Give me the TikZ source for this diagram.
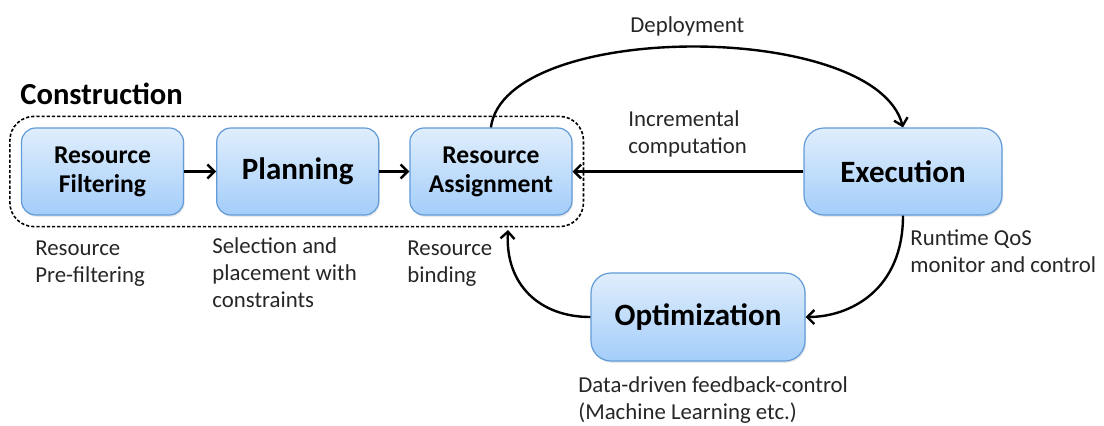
\documentclass[tikz,border=0pt]{standalone}
\usepackage{fontspec}
\setmainfont{Carlito}
\usetikzlibrary{shapes,arrows.meta,positioning,calc,fit,shadows}

\definecolor{boxtop}{RGB}{224,238,252}
\definecolor{boxbot}{RGB}{163,205,250}
\definecolor{boxline}{RGB}{98,155,215}

\tikzset{
  stage/.style={rectangle, rounded corners=7pt, draw=boxline, line width=0.6pt,
    top color=boxtop, bottom color=boxbot, align=center,
    minimum width=81pt, minimum height=43.5pt, inner sep=2pt,
    font=\bfseries\fontsize{12.8}{14.5}\selectfont,
    drop shadow={opacity=0.18, shadow xshift=0.6pt, shadow yshift=-0.9pt}},
  bigstage/.style={stage, rounded corners=10pt, font=\bfseries\fontsize{15.5}{18}\selectfont},
  note/.style={anchor=base west, align=left, inner sep=0pt,
    font=\fontsize{11.4}{13.5}\selectfont, text=black!85},
  flow/.style={-{Straight Barb[length=3.5pt,width=7pt]}, line width=1.2pt},
}

\begin{document}
\begin{tikzpicture}[x=0.5pt, y=-0.5pt, node distance=16pt]
        \useasboundingbox (0,0) rectangle (1104,425);

        % Construction row
        \node (filt) [stage] at (102.5,171.5) {Resource\\Filtering};
        \node (plan) [stage, right=of filt, font=\bfseries\fontsize{15.5}{18}\selectfont] {Planning};
        \node (assign) [stage, right=15pt of plan] {Resource\\Assignment};
        \node (cons) [draw, line width=0.8pt, dash pattern=on 1.6pt off 1pt, rounded corners=12pt,
          inner sep=5.5pt, fit=(filt)(plan)(assign)] {};
        \node (constitle) [anchor=base west, inner sep=0pt, font=\bfseries\fontsize{15.3}{17}\selectfont]
          at (20,104) {Construction};

        % Loop
        \node (exec) [bigstage, minimum width=99pt] at (903,171.5) {Execution};
        \node (opt) [bigstage, minimum width=107pt, minimum height=44pt] at (698,317) {Optimization};
        \coordinate (bind) at (508,230);

        % Arrows
        \draw[flow] (filt) -- (plan);
        \draw[flow] (plan) -- (assign);
        \draw[flow] (exec) -- (assign);
        \draw[flow] (assign.north) .. controls (505,20) and (875,20) .. (exec.north);
        \draw[flow] (exec.south) .. controls (903,290) and (850,317) .. (opt.east);
        \draw[flow] (opt.west) .. controls (540,317) and (505,285) .. (bind);

        % Labels (base = last line)
        \node (lfilt) [note] at (35,282) {Resource\\Pre-filtering};
        \node (lplan) [note] at (212,307) {Selection and\\placement with\\constraints};
        \node (lassign) [note] at (407,282) {Resource\\binding};
        \node (ldeploy) [note] at (630,32) {Deployment};
        \node (lincr) [note] at (628,153) {Incremental\\computation};
        \node (lqos) [note] at (910,272) {Runtime QoS\\monitor and control};
        \node (lopt) [note] at (578,419) {Data-driven feedback-control\\(Machine Learning etc.)};
    \end{tikzpicture}
\end{document}
